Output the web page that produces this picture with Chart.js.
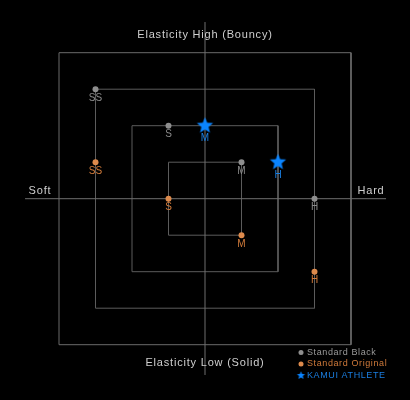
<!DOCTYPE html>
<html>
<head>
<meta charset="utf-8">
<script src="https://cdn.jsdelivr.net/npm/chart.js@4/dist/chart.umd.min.js"></script>
<style>
  html, body { margin: 0; padding: 0; background: #000; }
  #wrap { width: 410px; height: 400px; }
</style>
</head>
<body>
<div id="wrap"><canvas id="chart" width="410" height="400"></canvas></div>
<script>
// rings of the "target" (half side of each square, in grid units)
const squareSizes = [1, 2, 3, 4]
// axis extents
const hAxisRange = [-4.93, 4.96]
const vAxisRange = [-4.83, 4.84]

// series
const pointLabels = ['SS', 'S', 'M', 'H']
const blackX = [-3, -1, 1, 3]
const blackY = [3, 2, 1, 0]
const originalX = [-3, -1, 1, 3]
const originalY = [1, 0, -1, -2]
const kamuiLabels = ['M', 'H']
const kamuiX = [0, 2]
const kamuiY = [2, 1]

const seriesNames = ['Standard Black', 'Standard Original', 'KAMUI ATHLETE']
const axisTexts = {
  top: 'Elasticity High (Bouncy)',
  bottom: 'Elasticity Low (Solid)',
  left: 'Soft',
  right: 'Hard'
}

const GRAY = '#8e8e8e'
const ORANGE = '#dd8a4c'
const BLUE = '#0a84ff'
const FONT = '"Liberation Sans", Arial, sans-serif'

function toPoints(xs, ys) {
  return xs.map(function (x, i) { return { x: x, y: ys[i] } })
}

// filled five point star used as the point style
function makeStar(r, color) {
  const c = document.createElement('canvas')
  const size = Math.ceil(r * 2 + 2)
  c.width = size
  c.height = size
  const g = c.getContext('2d')
  const inner = r * 0.45
  g.beginPath()
  for (let i = 0; i < 10; i++) {
    const rad = i % 2 === 0 ? r : inner
    const a = -Math.PI / 2 + i * Math.PI / 5
    const px = size / 2 + rad * Math.cos(a)
    const py = size / 2 + rad * Math.sin(a)
    if (i === 0) g.moveTo(px, py)
    else g.lineTo(px, py)
  }
  g.closePath()
  g.fillStyle = color
  g.fill()
  return c
}

const starImg = makeStar(8.5, BLUE)
const starSmall = makeStar(4.3, BLUE)

const squareSets = squareSizes.map(function (s) {
  return {
    type: 'line',
    data: [
      { x: -s, y: s }, { x: s, y: s }, { x: s, y: -s }, { x: -s, y: -s }, { x: -s, y: s }
    ],
    borderColor: s === 4 ? '#6a6a6a' : '#5c5c5c',
    borderWidth: 1,
    pointRadius: 0,
    fill: false,
    order: 5
  }
})

const axisSets = [
  {
    type: 'line',
    data: [{ x: hAxisRange[0], y: 0 }, { x: hAxisRange[1], y: 0 }],
    borderColor: '#6e6e6e', borderWidth: 1, pointRadius: 0, order: 4
  },
  {
    type: 'line',
    data: [{ x: 0, y: vAxisRange[0] }, { x: 0, y: vAxisRange[1] }],
    borderColor: '#6e6e6e', borderWidth: 1, pointRadius: 0, order: 4
  }
]

const pointSets = [
  {
    label: seriesNames[0],
    data: toPoints(blackX, blackY),
    labels: pointLabels,
    backgroundColor: GRAY,
    borderWidth: 0,
    pointRadius: 3,
    textColor: '#8a8a8a',
    textOffset: 9,
    order: 1
  },
  {
    label: seriesNames[1],
    data: toPoints(originalX, originalY),
    labels: pointLabels,
    backgroundColor: ORANGE,
    borderWidth: 0,
    pointRadius: 3,
    textColor: '#d07a3a',
    textOffset: 9,
    order: 1
  },
  {
    label: seriesNames[2],
    data: toPoints(kamuiX, kamuiY),
    labels: kamuiLabels,
    pointStyle: starImg,
    backgroundColor: BLUE,
    textColor: '#1a7ee0',
    textOffset: 13,
    order: 0
  }
]

const textPlugin = {
  id: 'texts',
  beforeDraw: function (chart) {
    const ctx = chart.ctx
    ctx.save()
    ctx.fillStyle = '#000'
    ctx.fillRect(0, 0, chart.width, chart.height)
    ctx.restore()
  },
  afterDatasetsDraw: function (chart) {
    const ctx = chart.ctx
    ctx.save()
    // point labels
    ctx.textAlign = 'center'
    ctx.textBaseline = 'middle'
    ctx.font = '10px ' + FONT
    chart.data.datasets.forEach(function (ds, i) {
      if (!ds.labels) return
      const meta = chart.getDatasetMeta(i)
      meta.data.forEach(function (el, j) {
        ctx.fillStyle = ds.textColor
        ctx.fillText(ds.labels[j], el.x, el.y + ds.textOffset)
      })
    })

    // axis captions
    ctx.fillStyle = '#cfcfcf'
    ctx.font = '11px ' + FONT
    ctx.letterSpacing = '0.8px'
    ctx.fillText(axisTexts.top, 205, 35)
    ctx.fillText(axisTexts.bottom, 205, 363)
    ctx.fillText(axisTexts.left, 40, 191)
    ctx.fillText(axisTexts.right, 371, 191)

    // legend
    const rows = [352.5, 364, 375.5]
    ctx.textAlign = 'left'
    ctx.font = '9px ' + FONT
    ctx.letterSpacing = '0.6px'
    const colors = ['#9a9a9a', '#d07a3a', '#1a7ee0']
    const marks = [GRAY, ORANGE, BLUE]
    rows.forEach(function (y, k) {
      if (k === 2) {
        ctx.drawImage(starSmall, 301 - starSmall.width / 2, y - starSmall.height / 2)
      } else {
        ctx.beginPath()
        ctx.arc(301, y, 2.5, 0, Math.PI * 2)
        ctx.fillStyle = marks[k]
        ctx.fill()
      }
      ctx.fillStyle = colors[k]
      ctx.fillText(seriesNames[k], 307, y)
    })
    ctx.restore()
  }
}

new Chart(document.getElementById('chart'), {
  type: 'scatter',
  data: {
    datasets: pointSets.concat(axisSets, squareSets)
  },
  options: {
    responsive: false,
    animation: false,
    layout: {
      padding: { left: 22.5, right: 22.5, top: 16.2, bottom: 18.8 }
    },
    scales: {
      x: { type: 'linear', min: -5, max: 5, display: false },
      y: { type: 'linear', min: -5, max: 5, display: false }
    },
    plugins: {
      legend: { display: false },
      tooltip: { enabled: false }
    }
  },
  plugins: [textPlugin]
})
</script>
</body>
</html>
